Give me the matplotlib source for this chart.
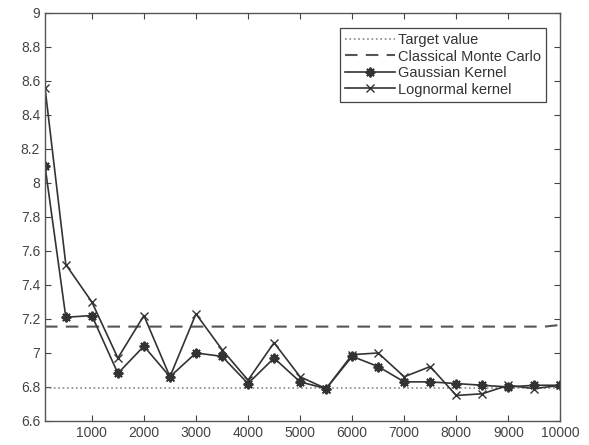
import matplotlib
matplotlib.use("Agg")
import matplotlib.pyplot as plt

plt.rcParams['font.family'] = ['Liberation Sans', 'DejaVu Sans']

x = [100, 500, 1000, 1500, 2000, 2500, 3000, 3500, 4000, 4500, 5000,
     5500, 6000, 6500, 7000, 7500, 8000, 8500, 9000, 9500, 10000]
gaussian = [8.10, 7.21, 7.22, 6.88, 7.04, 6.86, 7.00, 6.98, 6.82, 6.97, 6.83,
            6.79, 6.98, 6.92, 6.83, 6.83, 6.82, 6.81, 6.80, 6.81, 6.81]
lognormal = [8.56, 7.52, 7.30, 6.97, 7.22, 6.86, 7.23, 7.02, 6.84, 7.06, 6.86,
             6.79, 6.99, 7.00, 6.86, 6.92, 6.75, 6.76, 6.81, 6.79, 6.81]
target_x = [100, 10000]
target_y = [6.795, 6.795]
mc_x = [100, 9700, 10000]
mc_y = [7.155, 7.155, 7.165]

xticks = [1000, 2000, 3000, 4000, 5000, 6000, 7000, 8000, 9000, 10000]
yticks = [6.6, 6.8, 7.0, 7.2, 7.4, 7.6, 7.8, 8.0, 8.2, 8.4, 8.6, 8.8, 9.0]
ytick_labels = ['6.6', '6.8', '7', '7.2', '7.4', '7.6', '7.8', '8', '8.2', '8.4', '8.6', '8.8', '9']

fig = plt.figure(figsize=(5.89, 4.45), dpi=100)
ax = fig.add_axes([0.0764, 0.054, 0.875, 0.917])

lc = '#333333'
ax.plot(target_x, target_y, linestyle=':', color='#888888', lw=1.2, label='Target value')
ax.plot(mc_x, mc_y, linestyle=(0, (6, 4)), color='#555555', lw=1.5, label='Classical Monte Carlo')
ax.plot(x, gaussian, '-', marker=(8, 2, 0), color=lc, lw=1.2, ms=7, mew=1.4, label='Gaussian Kernel')
ax.plot(x, lognormal, '-', marker='x', color=lc, lw=1.2, ms=6, mew=1.0, label='Lognormal kernel')

ax.set_xlim(100, 10000)
ax.set_ylim(6.6, 9.0)
ax.set_xticks(xticks)
ax.set_xticklabels([str(t) for t in xticks])
ax.set_yticks(yticks)
ax.set_yticklabels(ytick_labels)
ax.tick_params(direction='in', top=True, right=True, length=4, width=0.8,
               labelsize=10, colors='#444444', labelcolor='#444444')
for s in ax.spines.values():
    s.set_color('#555555')
    s.set_linewidth(1.0)

leg = ax.legend(loc='upper right', bbox_to_anchor=(0.973, 0.963), fontsize=10.5,
                frameon=True, fancybox=False, edgecolor='#444444', framealpha=1,
                handlelength=3.4, borderpad=0.35, labelspacing=0.17, handletextpad=0.25,
                borderaxespad=0)
leg.get_frame().set_linewidth(0.9)
for t in leg.get_texts():
    t.set_color('#333333')

fig.savefig('out.png', dpi=100)
